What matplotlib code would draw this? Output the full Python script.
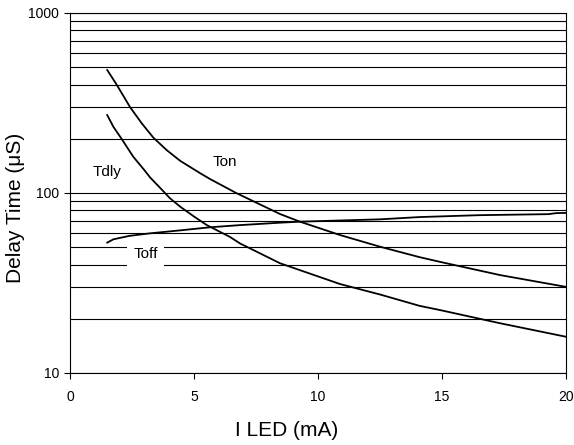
import matplotlib
matplotlib.use("Agg")
import matplotlib.pyplot as plt
from matplotlib.ticker import LogLocator, FixedLocator, NullFormatter

plt.rcParams['font.family'] = ['Liberation Sans', 'DejaVu Sans']

# Data
ton_x = [1.5, 1.88, 2.42, 2.9, 3.36, 3.9, 4.44, 5.24, 5.65, 6.7, 8.47, 9.27, 10.89, 12.5, 14.1, 14.9, 17.34, 20.0]
ton_y = [482, 400, 300, 243, 203, 173, 151, 129, 119.5, 100, 76.4, 69.3, 58.4, 50.3, 44.0, 41.5, 35.0, 30.1]

tdly_x = [1.5, 1.75, 2.08, 2.55, 2.96, 3.23, 3.83, 4.03, 4.44, 5.0, 5.51, 6.45, 6.85, 8.47, 10.89, 12.5, 14.1, 14.9, 17.34, 20.0]
tdly_y = [271, 233, 200, 159, 136, 122, 100, 93.5, 84, 74, 66.4, 57, 52.5, 40.7, 31.2, 27.3, 23.6, 22.4, 18.9, 15.9]

toff_x = [1.5, 1.75, 2.4, 3.23, 4.44, 5.65, 6.85, 8.47, 9.27, 12.5, 14.1, 16.5, 19.3, 19.6, 20.0]
toff_y = [53, 55.3, 57.8, 59.7, 62.0, 64.5, 66.3, 68.4, 69.3, 71.4, 73.5, 75.3, 76.3, 77.3, 77.5]

x_ticks = [0, 5, 10, 15, 20]
y_ticks = [10, 100, 1000]
y_ticklabels = ["10", "100", "1000"]

fig = plt.figure(figsize=(5.74, 4.45), dpi=100)
ax = fig.add_axes([0.122, 0.1618, 0.864, 0.809])

ax.set_yscale('log')
ax.set_xlim(0, 20)
ax.set_ylim(10, 1000)

ax.yaxis.set_major_locator(FixedLocator(y_ticks))
ax.set_yticklabels(y_ticklabels)
ax.yaxis.set_minor_locator(LogLocator(base=10, subs=range(2, 10)))
ax.yaxis.set_minor_formatter(NullFormatter())
ax.set_xticks(x_ticks)

ax.grid(True, which='both', axis='y', color='black', linewidth=0.8)
ax.tick_params(axis='y', which='minor', length=0)
ax.tick_params(axis='both', which='major', direction='out', length=4, width=0.8, labelsize=10, colors='black')
ax.tick_params(axis='x', pad=8)
ax.tick_params(axis='y', pad=4)
ax.set_axisbelow(True)

for s in ax.spines.values():
    s.set_color('black')
    s.set_linewidth(0.8)

lw = 1.3
ax.plot(ton_x, ton_y, color='black', lw=lw)
ax.plot(tdly_x, tdly_y, color='black', lw=lw)
ax.plot(toff_x, toff_y, color='black', lw=lw)

ax.text(1.51, 131, "Tdly", fontsize=11, ha='center', va='center')
ax.text(6.25, 149, "Ton", fontsize=11, ha='center', va='center')
ax.text(3.04, 45.8, "Toff", fontsize=11, ha='center', va='center',
        bbox=dict(facecolor='white', edgecolor='none', pad=4.5), zorder=3)

ax.set_xlabel("I LED (mA)", fontsize=15)
ax.set_ylabel("Delay Time (\u03bcS)", fontsize=15)
ax.xaxis.set_label_coords(0.4365, -0.133)
ax.yaxis.set_label_coords(-0.0907, 0.458)

fig.savefig("out.png", dpi=100)
